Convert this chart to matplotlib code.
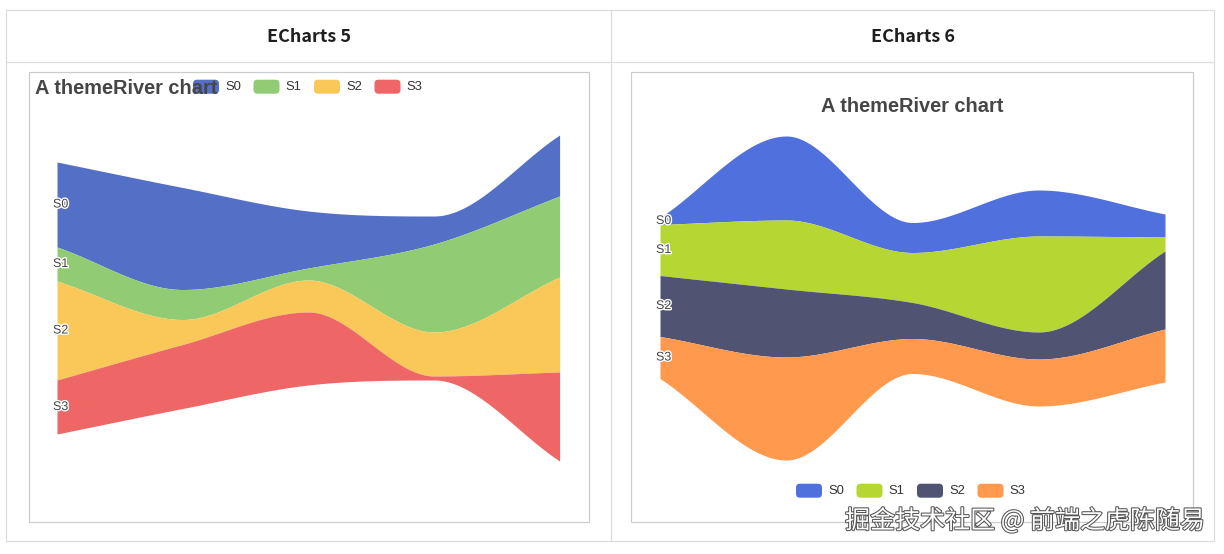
import matplotlib.pyplot as plt
import matplotlib.patheffects as pe
from matplotlib.patches import FancyBboxPatch, Rectangle
import numpy as np

W, H = 1224, 554
PT = 0.72  # px -> pt at dpi 100

series = ["S0", "S1", "S2", "S3"]
times = [0, 1, 2, 3, 4]

# ECharts 5 panel values
v5_s0 = [85, 102, 57, 28, 61]
v5_s1 = [34, 30, 12, 88, 81]
v5_s2 = [99, 25, 32, 44, 95]
v5_s3 = [54, 64, 73, 4, 89]
colors5 = ["#5470c6", "#91cc75", "#fac858", "#ee6666"]

# ECharts 6 panel values
v6_s0 = [7, 84, 30, 46, 23]
v6_s1 = [51, 69, 50, 96, 14]
v6_s2 = [61, 68, 36, 27, 78]
v6_s3 = [42, 103, 35, 47, 53]
colors6 = ["#5070dd", "#b6d634", "#505372", "#ff994d"]

header_labels = ["ECharts 5", "ECharts 6"]
chart_title = "A themeRiver chart"
watermark = "掘金技术社区 @ 前端之虎陈随易"


def smooth(x, y, n=80):
    # monotone-ish cubic hermite, flat at local extrema
    x = np.asarray(x, float)
    y = np.asarray(y, float)
    d = np.diff(y) / np.diff(x)
    m = np.empty_like(y)
    m[0], m[-1] = d[0], d[-1]
    for i in range(1, len(y) - 1):
        if d[i - 1] * d[i] <= 0:
            m[i] = 0
        else:
            m[i] = (d[i - 1] + d[i]) / 2
    xs, ys = [], []
    for i in range(len(x) - 1):
        h = x[i + 1] - x[i]
        t = np.linspace(0, 1, n)
        h00 = 2 * t**3 - 3 * t**2 + 1
        h10 = t**3 - 2 * t**2 + t
        h01 = -2 * t**3 + 3 * t**2
        h11 = t**3 - t**2
        xs.append(x[i] + t * h)
        ys.append(h00 * y[i] + h10 * h * m[i] + h01 * y[i + 1] + h11 * h * m[i + 1])
    return np.concatenate(xs), np.concatenate(ys)


def river(ax, data, colors):
    data = np.array(data, float)
    total = data.sum(axis=0)
    bounds = [total / 2]
    for row in data:
        bounds.append(bounds[-1] - row)
    curves = [smooth(times, b) for b in bounds]
    for k, c in enumerate(colors):
        xs, top = curves[k]
        _, bot = curves[k + 1]
        ax.fill_between(xs, bot, top, color=c, lw=0)
        mid = (bounds[k][0] + bounds[k + 1][0]) / 2
        ax.annotate(series[k], xy=(times[0], mid), xytext=(-4 * PT, 0),
                    textcoords="offset points", ha="left", va="center",
                    fontsize=12.5 * PT, color="#444", family="Liberation Sans",
                    annotation_clip=False, zorder=5,
                    path_effects=[pe.withStroke(linewidth=2, foreground="white")])
    ax.set_xlim(times[0], times[-1])
    ax.set_ylim(-(470 - 298), 298 - 125)
    ax.axis("off")


fig = plt.figure(figsize=(W / 100, H / 100), dpi=100)
pg = fig.add_axes([0, 0, 1, 1])
pg.set_xlim(0, W)
pg.set_ylim(H, 0)
pg.axis("off")

# table
lc = "#dcdcdc"
pg.add_patch(Rectangle((6, 10), 1208, 530.5, fill=False, ec=lc, lw=1.2 * PT))
pg.plot([6, 1214], [61.5, 61.5], color=lc, lw=1.2 * PT)
pg.plot([610.5, 610.5], [10, 540.5], color=lc, lw=1.2 * PT)
for cx, lab in zip([309, 913], header_labels):
    pg.text(cx, 36.5, lab, ha="center", va="center", fontsize=18 * PT,
            fontweight="bold", color="#1f1f1f", family="Noto Sans CJK SC")

# chart boxes
bc = "#cccccc"
pg.add_patch(Rectangle((28.5, 72), 560, 449.5, fill=False, ec=bc, lw=1.2 * PT))
pg.add_patch(Rectangle((631, 72), 562, 449.5, fill=False, ec=bc, lw=1.2 * PT))


def legend(x0, yc, colors):
    for i, (name, c) in enumerate(zip(series, colors)):
        x = x0 + i * 60.5
        pg.add_patch(FancyBboxPatch((x, yc - 7), 26, 14,
                                    boxstyle="round,pad=0,rounding_size=4",
                                    fc=c, ec="none"))
        pg.text(x + 32, yc, name, ha="left", va="center", fontsize=13 * PT,
                color="#333", family="Liberation Sans")


legend(193, 86.7, colors5)
legend(796, 490.7, colors6)

pg.text(35, 89, chart_title, ha="left", va="center", fontsize=20 * PT,
        fontweight="bold", color="#464646", family="Liberation Sans", zorder=6)
pg.text(912, 106, chart_title, ha="center", va="center", fontsize=20 * PT,
        fontweight="bold", color="#464646", family="Liberation Sans")

ax5 = fig.add_axes([57 / W, 1 - 470 / H, (559.6 - 57) / W, 345 / H])
river(ax5, [v5_s0, v5_s1, v5_s2, v5_s3], colors5)
ax6 = fig.add_axes([660 / W, 1 - 470 / H, (1165 - 660) / W, 345 / H])
river(ax6, [v6_s0, v6_s1, v6_s2, v6_s3], colors6)

top = fig.add_axes([0, 0, 1, 1])
top.set_xlim(0, W)
top.set_ylim(H, 0)
top.axis("off")
top.text(1205, 521, watermark, ha="right", va="center", fontsize=25 * PT,
         color="white", family=["Noto Sans CJK SC", "DejaVu Sans"],
         path_effects=[pe.withStroke(linewidth=1.5, foreground="#555555")])

fig.savefig("out.png", dpi=100)
